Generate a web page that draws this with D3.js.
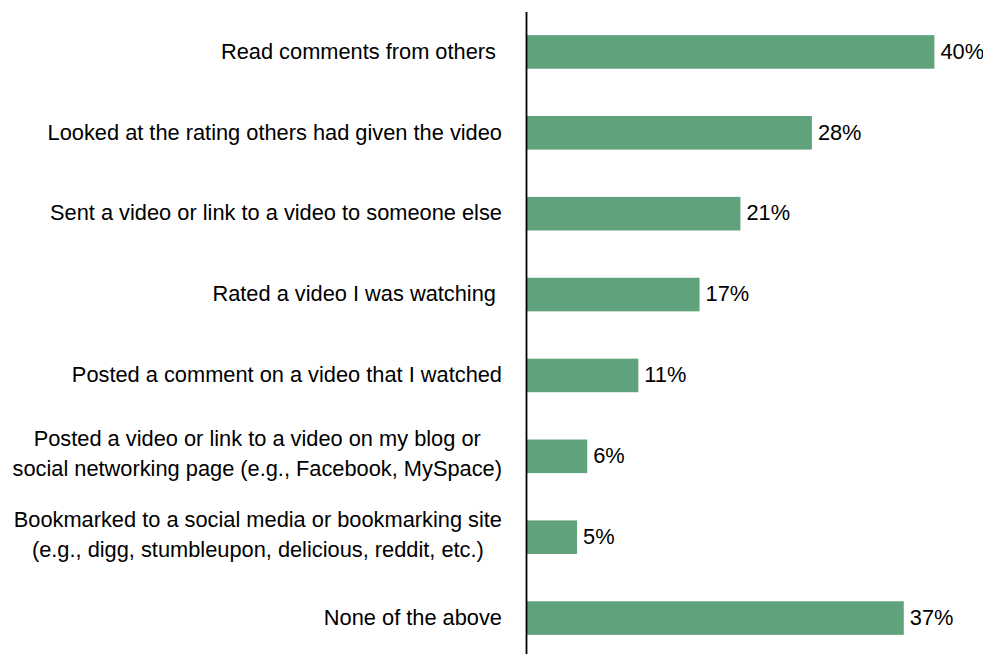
<!DOCTYPE html>
<html>
<head>
<meta charset="utf-8">
<script src="https://cdn.jsdelivr.net/npm/d3@7"></script>
<style>
  html, body { margin: 0; padding: 0; background: #ffffff; }
  svg { display: block; }
  text { font-family: "Liberation Sans", Arial, sans-serif; fill: #000; }
</style>
</head>
<body>
<svg id="chart" width="983" height="654"></svg>
<script>
// Activities, one entry per bar; "\n" splits a label over two lines
const categories = [
  "Read comments from others ",
  "Looked at the rating others had given the video",
  "Sent a video or link to a video to someone else",
  "Rated a video I was watching ",
  "Posted a comment on a video that I watched",
  "Posted a video or link to a video on my blog or\nsocial networking page (e.g., Facebook, MySpace)",
  "Bookmarked to a social media or bookmarking site\n(e.g., digg, stumbleupon, delicious, reddit, etc.)",
  "None of the above"
];
// Share of respondents, percent
const values = [40, 28, 21, 17, 11, 6, 5, 37];
const valueLabels = ["40%", "28%", "21%", "17%", "11%", "6%", "5%", "37%"];

const W = 983, H = 654;
const fontSize = 21.8;
const lineGap = 30;
const labelRight = 502;
const barColor = "#5fa27b";

const svg = d3.select("#chart");

const x = d3.scaleLinear().domain([0, 44]).range([526, 526 + 44 * 10.21]);
const y = d3.scaleBand()
  .domain(d3.range(categories.length))
  .range([11.5, 658.5])
  .paddingInner(0.585)
  .paddingOuter(0.2925);

// Bars
svg.append("g").selectAll("rect")
  .data(values)
  .join("rect")
  .attr("x", x(0))
  .attr("y", (d, i) => y(i))
  .attr("width", d => x(d) - x(0))
  .attr("height", y.bandwidth())
  .attr("fill", barColor);

// Value labels at the end of each bar
svg.append("g").selectAll("text")
  .data(values)
  .join("text")
  .attr("x", d => x(d) + 6)
  .attr("y", (d, i) => y(i) + y.bandwidth() / 2 + 6.8)
  .style("font-size", fontSize + "px")
  .text((d, i) => valueLabels[i]);

// Vertical category axis (line only; labels drawn below)
svg.append("g")
  .attr("transform", `translate(${x(0)},0)`)
  .call(d3.axisLeft(y).tickSize(0).tickFormat(""))
  .call(g => g.select(".domain").attr("stroke", "#000").attr("stroke-width", 1.8));

// Category labels: lines centred on each other, block right-aligned to the axis gap
const labels = svg.append("g").selectAll("text")
  .data(categories)
  .join("text")
  .style("font-size", fontSize + "px")
  .style("white-space", "pre")
  .attr("text-anchor", "middle");

labels.each(function(d, i) {
  const t = d3.select(this);
  const lines = d.split("\n");
  const cy = y(i) + y.bandwidth() / 2;
  const first = lines.length === 1 ? cy + 6.8 : cy - 10;
  const spans = lines.map((ln, k) =>
    t.append("tspan").attr("y", first + k * lineGap).text(ln));
  const widest = d3.max(spans, s => s.node().getComputedTextLength());
  spans.forEach(s => s.attr("x", labelRight - widest / 2));
});
</script>
</body>
</html>
